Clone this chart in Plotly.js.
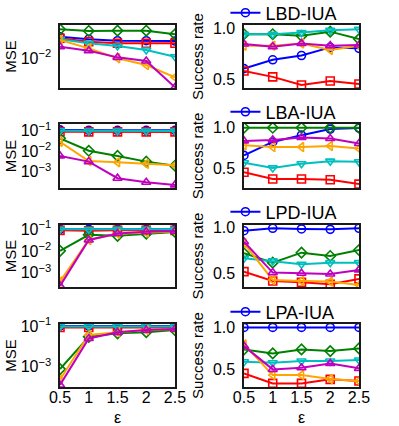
<!DOCTYPE html>
<html>
<head>
<meta charset="utf-8">
<script src="https://cdn.plot.ly/plotly-3.0.1.min.js"></script>
<style>
  html, body { margin: 0; padding: 0; background: #fff; }
  #chart { width: 399px; height: 426px; }
</style>
</head>
<body>
<div id="chart"></div>
<script>
// x values (privacy budget)
const eps = [0.5, 1, 1.5, 2, 2.5];
const attackNames = ['LBD-IUA', 'LBA-IUA', 'LPD-IUA', 'LPA-IUA'];

// MSE, one inner array per row (LBD, LBA, LPD, LPA)
const mseBlue = [
  [0.0267, 0.0237, 0.0222, 0.0222, 0.0219],
  [0.11, 0.105, 0.105, 0.105, 0.105],
  [0.1, 0.1, 0.1, 0.1, 0.1],
  [0.1, 0.1, 0.1, 0.1, 0.1]
];
const mseRed = [
  [0.0248, 0.0212, 0.0197, 0.0197, 0.0197],
  [0.09, 0.088, 0.088, 0.088, 0.088],
  [0.09, 0.085, 0.09, 0.09, 0.09],
  [0.085, 0.085, 0.085, 0.085, 0.085]
];
const mseGreen = [
  [0.0375, 0.0347, 0.0352, 0.0352, 0.0298],
  [0.0427, 0.0105, 0.00589, 0.00309, 0.00195],
  [0.0102, 0.0562, 0.0501, 0.0631, 0.0759],
  [0.00076, 0.0295, 0.0437, 0.0501, 0.0631]
];
const mseCyan = [
  [0.0237, 0.0197, 0.0174, 0.0145, 0.0106],
  [0.1, 0.098, 0.098, 0.098, 0.098],
  [0.1, 0.098, 0.1, 0.1, 0.1],
  [0.095, 0.095, 0.095, 0.095, 0.095]
];
const mseOrange = [
  [0.0229, 0.0156, 0.00986, 0.00724, 0.00411],
  [0.0288, 0.00331, 0.00288, 0.0024, 0.00204],
  [0.000389, 0.0324, 0.0631, 0.0708, 0.0794],
  [0.000234, 0.0363, 0.0501, 0.0631, 0.0708]
];
const mseMagenta = [
  [0.0168, 0.014, 0.0103, 0.0087, 0.00259],
  [0.00589, 0.00309, 0.000479, 0.000302, 0.000224],
  [0.000245, 0.0324, 0.0646, 0.0776, 0.0832],
  [0.000126, 0.0245, 0.049, 0.0631, 0.0708]
];

// success rate, same layout
const srBlue = [
  [0.606, 0.692, 0.734, 0.813, 0.804],
  [0.662, 0.824, 0.906, 0.979, 0.991],
  [0.963, 0.989, 0.982, 0.978, 0.989],
  [1.0, 1.0, 1.0, 1.0, 1.0]
];
const srRed = [
  [0.583, 0.525, 0.445, 0.484, 0.455],
  [0.459, 0.378, 0.378, 0.37, 0.317],
  [0.517, 0.416, 0.402, 0.38, 0.438],
  [0.452, 0.333, 0.333, 0.381, 0.361]
];
const srGreen = [
  [0.942, 0.942, 0.926, 0.967, 0.894],
  [0.995, 0.995, 0.995, 0.995, 0.995],
  [0.717, 0.615, 0.724, 0.688, 0.753],
  [0.738, 0.69, 0.738, 0.718, 0.75]
];
const srCyan = [
  [0.942, 0.942, 0.958, 0.98, 0.99],
  [0.573, 0.512, 0.561, 0.593, 0.585],
  [0.663, 0.634, 0.598, 0.615, 0.615],
  [0.59, 0.579, 0.599, 0.599, 0.611]
];
const srOrange = [
  [0.83, 0.83, 0.852, 0.788, 0.83],
  [0.784, 0.763, 0.763, 0.776, 0.744],
  [0.826, 0.427, 0.416, 0.409, 0.373],
  [0.798, 0.432, 0.432, 0.385, 0.361]
];
const srMagenta = [
  [0.846, 0.82, 0.852, 0.83, 0.837],
  [0.837, 0.849, 0.878, 0.866, 0.805],
  [0.843, 0.507, 0.5, 0.492, 0.536],
  [0.777, 0.5, 0.519, 0.571, 0.512]
];

// drawing order: blue first, magenta last
const series = [
  { mse: mseBlue,    sr: srBlue,    color: '#0000ff', symbol: 'circle-open' },
  { mse: mseRed,     sr: srRed,     color: '#ff0000', symbol: 'square-open' },
  { mse: mseGreen,   sr: srGreen,   color: '#008000', symbol: 'diamond-open' },
  { mse: mseCyan,    sr: srCyan,    color: '#00bfbf', symbol: 'triangle-down-open' },
  { mse: mseOrange,  sr: srOrange,  color: '#ffa500', symbol: 'triangle-left-open' },
  { mse: mseMagenta, sr: srMagenta, color: '#bf00bf', symbol: 'triangle-up-open' }
];

// row domains (paper fraction, from bottom)
const rowDomains = [[0.7934, 0.9413], [0.5587, 0.7089], [0.3263, 0.4718], [0.0915, 0.2394]];
const legendY = [0.9695, 0.737, 0.5023, 0.2676];
const mseRanges = [[-2.6, -1.34], [-3.8, -0.67], [-3.66, -0.80], [-4.0, -0.9]];
const mseTicks = [[0.01], [0.1, 0.01, 0.001], [0.1, 0.01, 0.001], [0.1, 0.001]];
const expText = { 0.1: '10<sup>\u22121</sup>', 0.01: '10<sup>\u22122</sup>', 0.001: '10<sup>\u22123</sup>' };
const srRanges = [[0.416, 1.032], [0.27, 1.04], [0.35, 1.025], [0.29, 1.04]];
const leftDomain = [0.1504, 0.4386], rightDomain = [0.6115, 0.8997];

const font = { family: 'Liberation Sans, Arial, sans-serif', size: 14, color: '#000' };
const frame = {
  showline: true, mirror: true, linecolor: '#1a1a1a', linewidth: 1.6,
  ticks: '', ticklabelstandoff: 4, showgrid: false, zeroline: false,
  tickfont: { size: 16 }
};

const data = [];
const layout = {
  width: 399, height: 426,
  margin: { l: 0, r: 0, t: 0, b: 0, autoexpand: false },
  paper_bgcolor: '#fff', plot_bgcolor: '#fff',
  font: font,
  showlegend: true,
  // x-axis label under each bottom panel
  annotations: [leftDomain, rightDomain].map(d => ({
    text: '\u03b5', xref: 'paper', yref: 'paper',
    x: (d[0] + d[1]) / 2, y: 0.019, xanchor: 'center', yanchor: 'middle',
    showarrow: false, font: { size: 16 }
  }))
};

for (let r = 0; r < 4; r++) {
  const left = 2 * r + 1, right = 2 * r + 2;
  const legendId = r === 0 ? 'legend' : 'legend' + (r + 1);
  series.forEach((s, i) => {
    const style = {
      mode: 'lines+markers',
      line: { color: s.color, width: 2 },
      marker: { symbol: s.symbol, size: 8, color: s.color, line: { width: 1.6, color: s.color } }
    };
    data.push(Object.assign({
      type: 'scatter', x: eps, y: s.mse[r],
      xaxis: 'x' + left, yaxis: 'y' + left, showlegend: false
    }, style));
    data.push(Object.assign({
      type: 'scatter', x: eps, y: s.sr[r],
      xaxis: 'x' + right, yaxis: 'y' + right,
      name: attackNames[r], legend: legendId, showlegend: i === 0
    }, style));
  });

  const xCommon = Object.assign({}, frame, {
    range: [0.5, 2.5], tickvals: eps, showticklabels: r === 3, ticklabelstandoff: -5
  });
  layout['xaxis' + left] = Object.assign({}, xCommon, { domain: leftDomain, anchor: 'y' + left });
  layout['xaxis' + right] = Object.assign({}, xCommon, { domain: rightDomain, anchor: 'y' + right });

  layout['yaxis' + left] = Object.assign({}, frame, {
    type: 'log', range: mseRanges[r], domain: rowDomains[r], anchor: 'x' + left,
    tickvals: mseTicks[r], ticktext: mseTicks[r].map(v => expText[v]),
    title: { text: 'MSE', font: { size: 15 } }
  });
  layout['yaxis' + right] = Object.assign({}, frame, {
    range: srRanges[r], domain: rowDomains[r], anchor: 'x' + right,
    tickvals: [0.5, 1.0], ticktext: ['0.5', '1.0'],
    title: { text: 'Success rate', font: { size: 15 } }
  });

  layout[legendId] = {
    x: 0.565, xanchor: 'left', y: legendY[r], yanchor: 'middle',
    bgcolor: 'rgba(0,0,0,0)', font: { size: 18 }
  };
}

Plotly.newPlot('chart', data, layout, { displayModeBar: false, staticPlot: true });
</script>
</body>
</html>
